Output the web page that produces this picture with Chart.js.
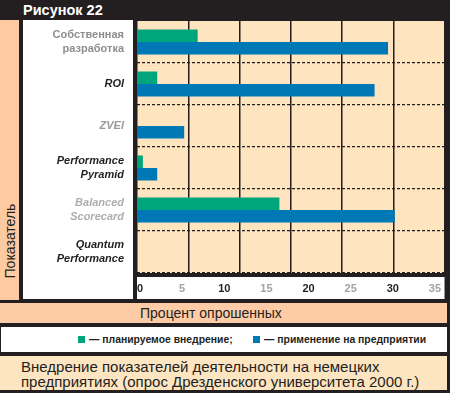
<!DOCTYPE html>
<html>
<head>
<meta charset="utf-8">
<script src="https://cdn.jsdelivr.net/npm/chart.js@4"></script>
<style>
  body { margin: 0; background: #fff; }
  #wrap { position: relative; width: 450px; height: 393px; background: #231f20; overflow: hidden;
          font-family: 'Liberation Sans', Arial, sans-serif; color: #231f20; }
  .abs { position: absolute; }
  #title { left: 23px; top: 1px; color: #fff; font-weight: bold; font-size: 14.5px; line-height: 18px; }
  #side { left: 0; top: 20px; width: 19px; height: 280px; background: #fdcaa2; }
  #sideText { left: -35px; top: 232px; width: 90px; height: 18px; line-height: 18px; font-size: 14px;
              text-align: center; transform: rotate(-90deg); }
  #plotBox { left: 23px; top: 20px; width: 424px; height: 279px; }
  #xtitle { left: 0; top: 303px; width: 447px; height: 20px; background: #fdcba5; font-size: 14px;
            line-height: 20px; }
  #xtitle span { position: absolute; left: 140px; }
  #legend { left: 1px; top: 327px; width: 446px; height: 25px; background: #fff; font-size: 10.4px;
            font-weight: bold; line-height: 25px; }
  #legend .item { position: absolute; top: 0; white-space: nowrap; }
  #legend .box { display: inline-block; width: 7px; height: 7px; margin-right: 4px; vertical-align: 0px; }
  #caption { left: 0; top: 356px; width: 447px; height: 34px; background: #fee5c2; font-size: 15px;
             line-height: 15px; }
  #caption div { position: absolute; left: 21px; top: 3px; }
</style>
</head>
<body>
<div id="wrap">
  <div id="title" class="abs">Рисунок 22</div>
  <div id="side" class="abs"></div>
  <div id="sideText" class="abs">Показатель</div>
  <div id="plotBox" class="abs"><canvas id="chart" width="424" height="279"></canvas></div>
  <div id="xtitle" class="abs"><span>Процент опрошенных</span></div>
  <div id="legend" class="abs"></div>
  <div id="caption" class="abs"><div>Внедрение показателей деятельности на немецких<br>предприятиях (опрос Дрезденского университета 2000 г.)</div></div>
</div>
<script>
const categories = [['Собственная', 'разработка'], 'ROI', 'ZVEI', ['Performance', 'Pyramid'], ['Balanced', 'Scorecard'], ['Quantum', 'Performance']];
const plannedValues = [7.2, 2.4, 0, 0.7, 16.9, 0];
const usedValues = [29.8, 28.2, 5.6, 2.4, 30.6, 0];
const xTicks = [0, 5, 10, 15, 20, 25, 30, 35];
const seriesNames = ['планируемое внедрение;', 'применение на предприятии'];

const labelColors = ['#8e8e8e', '#231f20', '#9a9a9a', '#231f20', '#adadad', '#231f20'];
const FONT = "'Liberation Sans', Arial, sans-serif";

// paints the panels behind the plot: white label column, peach plot, white tick row
const panels = {
    id: 'panels',
    beforeDraw(chart) {
        const {ctx, chartArea: a, width, height} = chart;
        ctx.save();
        ctx.fillStyle = '#231f20';
        ctx.fillRect(0, 0, width, height);
        ctx.fillStyle = '#fff';
        ctx.fillRect(0, 0, a.left - 4, height);
        ctx.fillRect(a.left, a.bottom + 4, a.right - a.left, height - a.bottom - 4);
        ctx.fillStyle = '#fee5bf';
        ctx.fillRect(a.left, a.top, a.right - a.left, a.bottom - a.top);
        ctx.restore();
    }
};

const chart = new Chart(document.getElementById('chart'), {
    type: 'bar',
    data: {
        labels: categories,
        datasets: [
            { label: seriesNames[0], data: plannedValues, backgroundColor: '#00a57b' },
            { label: seriesNames[1], data: usedValues, backgroundColor: '#0078b5' }
        ]
    },
    options: {
        indexAxis: 'y',
        responsive: false,
        animation: false,
        categoryPercentage: 0.6,
        barPercentage: 1,
        layout: { autoPadding: false, padding: { top: 1, right: 0, bottom: 0, left: 0 } },
        plugins: { legend: { display: false }, tooltip: { enabled: false } },
        scales: {
            x: {
                type: 'linear', min: 0, max: 36.5, position: 'bottom',
                afterBuildTicks: s => { s.ticks = xTicks.map(v => ({ value: v })); },
                afterFit: s => { s.height = 26; },
                grid: { display: false, drawTicks: false },
                border: { display: false },
                ticks: {
                    padding: 9, labelOffset: 3,
                    font: { family: FONT, size: 11, weight: 'bold' },
                    color: c => c.index % 2 ? '#a3a3a3' : '#231f20'
                }
            },
            // six equal columns of solid grid lines
            xg: {
                type: 'linear', min: 0, max: 6, position: 'bottom',
                afterFit: s => { s.height = 0; },
                ticks: { display: false, stepSize: 1 },
                grid: { color: '#231f20', lineWidth: 1.5, drawTicks: false },
                border: { display: false }
            },
            y: {
                // no extra room for the two-line labels at the ends
                afterFit: s => { s.width = 114; s.paddingTop = 0; s.paddingBottom = 0; },
                grid: {
                    drawTicks: false, lineWidth: 1.2,
                    color: c => c.index === 0 ? 'rgba(0,0,0,0)' : '#231f20'
                },
                border: { display: false, dash: [3, 2] },
                ticks: {
                    padding: 13,
                    font: c => ({ family: FONT, size: 11, weight: 'bold', lineHeight: 1.2,
                                  style: c.index === 0 ? 'normal' : 'italic' }),
                    color: c => labelColors[c.index]
                }
            }
        }
    },
    plugins: [panels]
});

// legend in its own band under the axis title
const legend = document.getElementById('legend');
const legendX = [77, 252];
chart.data.datasets.forEach((ds, i) => {
    const item = document.createElement('div');
    item.className = 'item';
    item.style.left = legendX[i] + 'px';
    item.innerHTML = '<span class="box" style="background:' + ds.backgroundColor + '"></span>— ' + ds.label;
    legend.appendChild(item);
});
</script>
</body>
</html>
